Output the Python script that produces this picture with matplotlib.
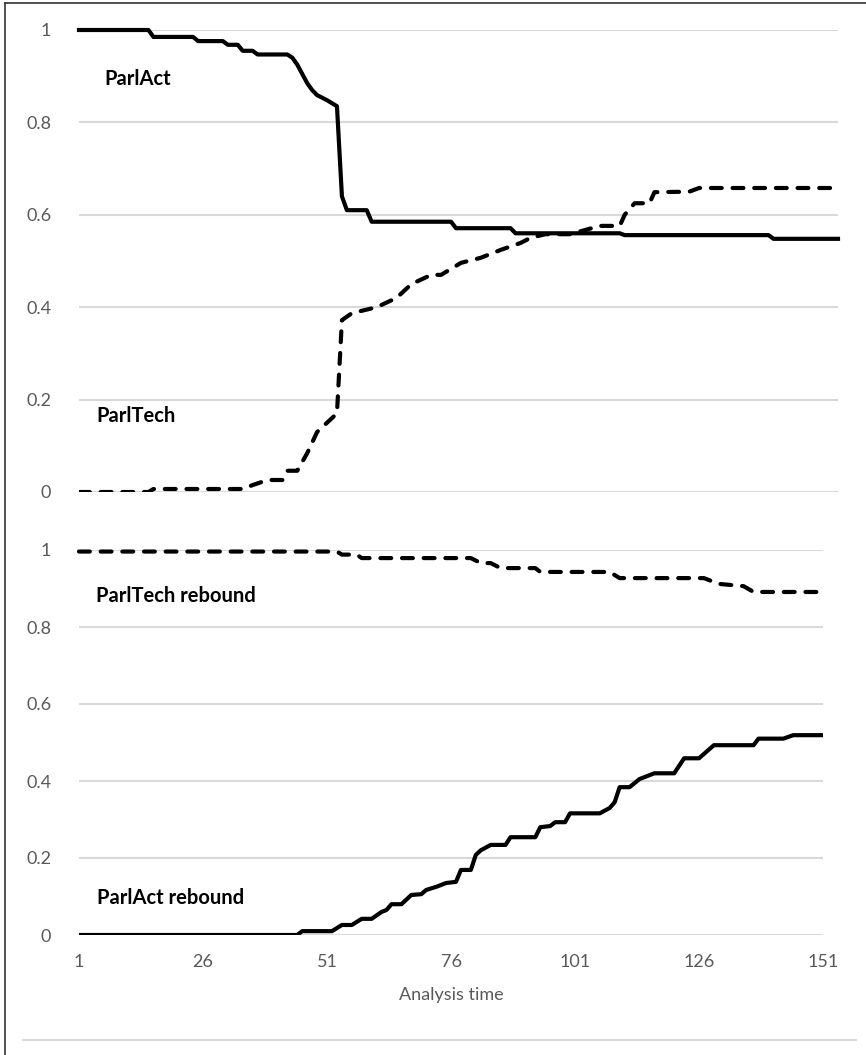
import matplotlib
matplotlib.use("Agg")
import matplotlib.pyplot as plt
from matplotlib.lines import Line2D

# Top panel: ParlAct (solid) and ParlTech (dashed)
parlact_t = [1, 15, 16, 24, 25, 30, 31, 33, 34, 36, 37, 43, 44, 45, 46, 47, 48, 49, 51, 53,
             54, 55, 59, 60, 76, 77, 88, 89, 110, 111, 140, 141, 154]
parlact_v = [1, 1, 0.985, 0.985, 0.976, 0.976, 0.968, 0.968, 0.955, 0.955, 0.947, 0.947,
             0.94, 0.925, 0.905, 0.885, 0.87, 0.859, 0.848, 0.835,
             0.64, 0.61, 0.61, 0.585, 0.585, 0.571, 0.571, 0.56, 0.56, 0.556, 0.556, 0.548, 0.548]

parltech_t = [1, 15, 16, 34, 36, 39, 42, 43, 45, 47, 49, 51, 53, 54, 56, 61, 65, 68, 72, 74,
              78, 82, 86, 90, 92, 95, 100, 103, 106, 110, 111, 113, 116, 117, 124, 126, 154]
parltech_v = [0, 0, 0.0065, 0.0065, 0.015, 0.026, 0.026, 0.046, 0.046, 0.084, 0.13, 0.15, 0.17,
              0.372, 0.387, 0.40, 0.42, 0.45, 0.47, 0.47,
              0.496, 0.507, 0.524, 0.539, 0.55, 0.558, 0.558, 0.567, 0.576, 0.576, 0.60, 0.625,
              0.625, 0.649, 0.65, 0.658, 0.658]

# Bottom panel: ParlTech rebound (dashed) and ParlAct rebound (solid)
techreb_t = [1, 53, 54, 57, 58, 80, 82, 84, 86, 93, 94, 108, 110, 127, 130, 135, 137, 151]
techreb_v = [0.996, 0.996, 0.988, 0.988, 0.979, 0.979, 0.966, 0.966, 0.953, 0.953, 0.943,
             0.943, 0.927, 0.927, 0.912, 0.906, 0.891, 0.891]

actreb_t = [1, 45, 46, 52, 54, 56, 58, 60, 62, 63, 64, 66, 68, 70, 71, 73, 75, 77, 78, 80,
            81, 82, 84, 87, 88, 93, 94, 96, 97, 99, 100, 106, 108, 109, 110, 112, 114, 115,
            117, 121, 123, 126, 129, 137, 138, 143, 145, 151]
actreb_v = [0, 0, 0.01, 0.01, 0.026, 0.026, 0.042, 0.042, 0.06, 0.065, 0.08, 0.08, 0.104,
            0.106, 0.117, 0.125, 0.135, 0.138, 0.169, 0.169, 0.208, 0.22, 0.234, 0.234, 0.254,
            0.254, 0.28, 0.283, 0.293, 0.293, 0.316, 0.316, 0.33, 0.345, 0.384, 0.384, 0.405,
            0.41, 0.42, 0.42, 0.459, 0.459, 0.493, 0.493, 0.51, 0.51, 0.519, 0.519]

x_ticks = [1, 26, 51, 76, 101, 126, 151]
y_ticks = [0, 0.2, 0.4, 0.6, 0.8, 1]

plt.rcParams['font.family'] = ['Lato', 'DejaVu Sans']

W, H = 866, 1055
fig = plt.figure(figsize=(W / 100, H / 100), dpi=100)

grid_col = '#d9d9d9'
tick_col = '#595959'
dash = (2.6, 2.6)


def style_axes(ax):
    for s in ax.spines.values():
        s.set_visible(False)
    ax.set_yticks(y_ticks)
    ax.set_yticklabels(['0', '0.2', '0.4', '0.6', '0.8', '1'])
    ax.tick_params(axis='both', length=0, labelsize=13, colors=tick_col, pad=20)
    ax.grid(axis='y', color=grid_col, linewidth=1.5)
    ax.set_axisbelow(True)
    ax.set_ylim(0, 1)


# top panel
ax1 = fig.add_axes([79 / W, 1 - 492 / H, 759 / W, 462 / H])
style_axes(ax1)
ax1.set_xlim(1, 154)
ax1.set_xticks([])
ax1.plot(parlact_t, parlact_v, color='black', linewidth=3, solid_joinstyle='round',
         clip_on=False)
ax1.plot(parltech_t, parltech_v, color='black', linewidth=3, dashes=dash,
         dash_capstyle='round')
ax1.text(6.2, 0.894, 'ParlAct', fontsize=14.5, fontweight='bold', va='center', ha='left')
ax1.text(4.6, 0.165, 'ParlTech', fontsize=14.5, fontweight='bold', va='center', ha='left')

# bottom panel
ax2 = fig.add_axes([79 / W, 1 - 935 / H, 744 / W, 385 / H])
style_axes(ax2)
ax2.set_xlim(1, 151)
ax2.set_xticks(x_ticks)
ax2.tick_params(axis='x', pad=14)
ax2.plot(techreb_t, techreb_v, color='black', linewidth=3, dashes=dash,
         dash_capstyle='round', clip_on=False)
ax2.plot(actreb_t, actreb_v, color='black', linewidth=3, solid_joinstyle='round')
ax2.text(4.4, 0.88, 'ParlTech rebound', fontsize=14.5, fontweight='bold', va='center', ha='left')
ax2.text(4.6, 0.096, 'ParlAct rebound', fontsize=14.5, fontweight='bold', va='center', ha='left')
ax2.set_xlabel('Analysis time', fontsize=13, color=tick_col, labelpad=12)

# frame lines of the figure
fig.add_artist(Line2D([5 / W, 5 / W], [0, 1 - 3 / H], color='#333333', linewidth=1.2))
fig.add_artist(Line2D([5 / W, 1], [1 - 3 / H, 1 - 3 / H], color='#333333', linewidth=1.2))
fig.add_artist(Line2D([23 / W, 856 / W], [1 - 1040 / H, 1 - 1040 / H], color=grid_col,
                      linewidth=1.5))

fig.savefig('out.png', dpi=100, facecolor='white')
